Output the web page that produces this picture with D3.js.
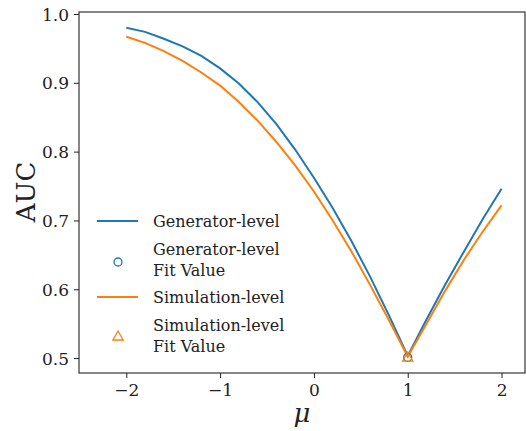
<!DOCTYPE html>
<html><head><meta charset="utf-8">
<script src="https://cdn.jsdelivr.net/npm/d3@7"></script>
<style>body{margin:0;background:#fff}svg{display:block}</style>
</head><body><svg id="c" width="526" height="431"></svg>
<script>
const mu = [-2.0,-1.8,-1.6,-1.4,-1.2,-1.0,-0.8,-0.6,-0.4,-0.2,0.0,0.2,0.4,0.6,0.8,1.0,1.2,1.4,1.6,1.8,2.0];
const genAUC = [0.980,0.974,0.964,0.953,0.939,0.921,0.899,0.872,0.840,0.803,0.762,0.718,0.670,0.618,0.562,0.503,0.556,0.607,0.655,0.702,0.746];
const simAUC = [0.967,0.958,0.946,0.932,0.915,0.896,0.872,0.845,0.814,0.780,0.742,0.700,0.655,0.606,0.555,0.502,0.550,0.598,0.643,0.684,0.722];
const genFit = [1.0, 0.501];
const simFit = [1.0, 0.500];
const xTicks = [-2,-1,0,1,2];
const yTicks = [0.5,0.6,0.7,0.8,0.9,1.0];
const legendLabels = [["Generator-level"],["Generator-level","Fit Value"],["Simulation-level"],["Simulation-level","Fit Value"]];

const FF = "DejaVu Serif";
const blue="#1f77b4", orange="#ff7f0e";
const L=79,R=525,T=12,B=373;
const svg=d3.select("#c");
const x=d3.scaleLinear().domain([-2.504,2.25]).range([L,R]);
const y=d3.scaleLinear().domain([0.4783,1.0029]).range([B,T]);

const gx=svg.append("g").attr("transform",`translate(0,${B})`)
 .call(d3.axisBottom(x).tickValues(xTicks).tickSize(5).tickPadding(5).tickFormat(d=>d<0?"\u2212"+Math.abs(d):d));
const gy=svg.append("g").attr("transform",`translate(${L},0)`)
 .call(d3.axisLeft(y).tickValues(yTicks).tickSize(5).tickPadding(5).tickFormat(d3.format(".1f")));
[gx,gy].forEach(g=>{g.attr("font-family",FF).attr("font-size",17);g.select(".domain").remove();g.selectAll("line").attr("stroke","#222").attr("stroke-width",1);
 g.selectAll("text").attr("fill","#222");});
gx.selectAll("text").attr("dy","0.75em");
gy.selectAll("text").attr("dy","0.36em");

svg.append("rect").attr("x",L).attr("y",T).attr("width",R-L).attr("height",B-T).attr("fill","none").attr("stroke","#222").attr("stroke-width",1.1);

const line=d3.line().x((d,i)=>x(mu[i])).y(d=>y(d));
svg.append("path").datum(genAUC).attr("d",line).attr("fill","none").attr("stroke",blue).attr("stroke-width",2);
svg.append("path").datum(simAUC).attr("d",line).attr("fill","none").attr("stroke",orange).attr("stroke-width",2);

const tri=d3.symbol().type(d3.symbolTriangle).size(46);
svg.append("circle").attr("cx",x(genFit[0])).attr("cy",y(genFit[1])).attr("r",4).attr("fill","none").attr("stroke",blue).attr("stroke-width",1.3);
svg.append("path").attr("d",tri).attr("transform",`translate(${x(simFit[0])},${y(simFit[1])})`).attr("fill","none").attr("stroke",orange).attr("stroke-width",1.3);

// legend
const lg=svg.append("g").attr("font-family",FF).attr("font-size",16).attr("fill","#222");
const rows=[{y:221,type:"line",c:blue,tb:[227]},{y:262,type:"circle",c:blue,tb:[255,276]},{y:297,type:"line",c:orange,tb:[303]},{y:337,type:"tri",c:orange,tb:[331,352]}];
rows.forEach((r,i)=>{
 if(r.type==="line") lg.append("line").attr("x1",97).attr("x2",138).attr("y1",r.y).attr("y2",r.y).attr("stroke",r.c).attr("stroke-width",2);
 else if(r.type==="circle") lg.append("circle").attr("cx",118).attr("cy",r.y).attr("r",4).attr("fill","none").attr("stroke",r.c).attr("stroke-width",1.3);
 else lg.append("path").attr("d",tri).attr("transform",`translate(118,${r.y})`).attr("fill","none").attr("stroke",r.c).attr("stroke-width",1.3);
 legendLabels[i].forEach((t,j)=>lg.append("text").attr("x",153).attr("y",r.tb[j]).text(t));
});

svg.append("text").attr("transform","translate(35,192) rotate(-90)").attr("text-anchor","middle").attr("font-family",FF).attr("font-size",26).attr("fill","#222").text("AUC");
svg.append("text").attr("x",302).attr("y",422).attr("text-anchor","middle").attr("font-family",FF).attr("font-size",26).attr("font-style","italic").attr("fill","#222").text("\u03bc");
</script></body></html>
